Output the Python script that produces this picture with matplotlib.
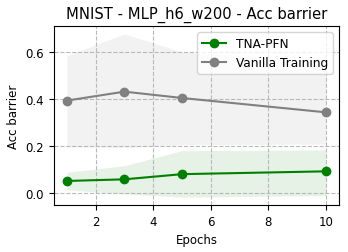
import matplotlib
matplotlib.use("Agg")
import matplotlib.pyplot as plt
import numpy as np

epochs = [1, 3, 5, 10]
tna_mean = [0.051, 0.058, 0.080, 0.092]
tna_low = [0.013, -0.004, -0.018, -0.011]
tna_high = [0.088, 0.116, 0.180, 0.183]
van_mean = [0.393, 0.431, 0.404, 0.343]
van_low = [0.196, 0.194, 0.205, 0.208]
van_high = [0.584, 0.677, 0.600, 0.560]

fig = plt.figure(figsize=(3.48, 2.53), dpi=100)
ax = fig.add_axes([0.155, 0.186, 0.819, 0.707])

ax.fill_between(epochs, van_low, van_high, color="grey", alpha=0.1, linewidth=0)
ax.fill_between(epochs, tna_low, tna_high, color="green", alpha=0.1, linewidth=0)
ax.plot(epochs, tna_mean, color="green", marker="o", markersize=6, linewidth=1.5, label="TNA-PFN")
ax.plot(epochs, van_mean, color="grey", marker="o", markersize=6, linewidth=1.5, label="Vanilla Training")

ax.set_xlim(0.55, 10.45)
ax.set_ylim(-0.051, 0.71)
ax.set_xticks([2, 4, 6, 8, 10])
ax.set_yticks([0.0, 0.2, 0.4, 0.6])
ax.tick_params(labelsize=8.5)
ax.grid(True, linestyle="--", color="#b8b8b8", linewidth=0.8)
ax.set_xlabel("Epochs", fontsize=8.5)
ax.set_ylabel("Acc barrier", fontsize=8.5)
ax.set_title("MNIST - MLP_h6_w200 - Acc barrier", fontsize=10.6)
ax.legend(loc="upper right", fontsize=8.7)

fig.savefig("out.png", dpi=100)
